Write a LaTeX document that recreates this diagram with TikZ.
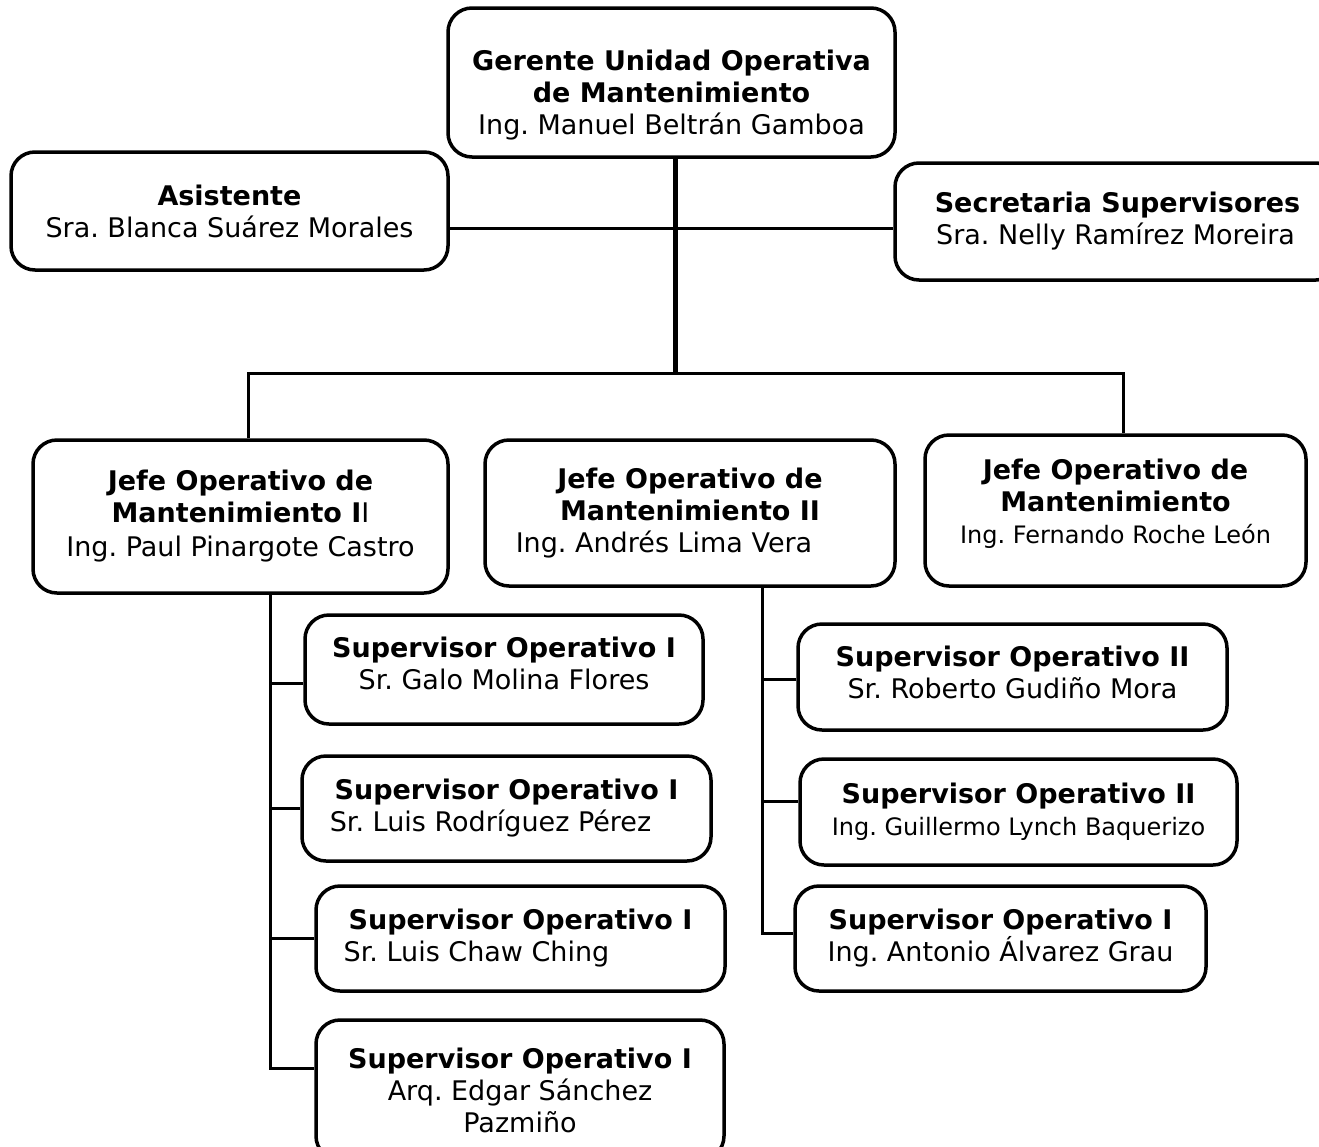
\documentclass[tikz,border=0pt]{standalone}
\usepackage{fontspec}
\setmainfont{DejaVu Sans}
\frenchspacing

\tikzset{
  puesto/.style={draw, line width=3.5pt, rounded corners=24pt, align=center,
    inner sep=0pt, font=\fontsize{27}{32}\selectfont},
  linea/.style={line width=3pt},
  tronco/.style={line width=5pt},
}
\newcommand\chico{\fontsize{24}{32}\selectfont}
\newcommand\arriba[1]{\rule{0pt}{#1}}
\newcommand\abajo[1]{\rule[-#1]{0pt}{1pt}}

\begin{document}
\begin{tikzpicture}[x=1pt,y=-1pt]
  \useasboundingbox (0,0) rectangle (1319,1146);
  \clip (0,0) rectangle (1319,1146);

  % gerencia
  \node[puesto, minimum width=447pt, minimum height=149pt] (gerente) at (671.5,82.5)
    {\arriba{45pt}\textbf{Gerente Unidad Operativa}\\\textbf{de Mantenimiento}\\Ing. Manuel Beltrán Gamboa};
  \node[puesto, minimum width=437pt, minimum height=118pt] (asist) at (229.5,211)
    {\textbf{Asistente}\\Sra. Blanca Suárez Morales};
  \node[puesto, minimum width=445pt, minimum height=117pt] (secre) at (1117.5,221.5)
    {\textbf{Secretaria Supervisores}\\Sra. Nelly Ramírez Moreira\hspace*{4pt}};

  % jefes
  \node[puesto, minimum width=415pt, minimum height=153pt] (jefeA) at (240.5,516.5)
    {\textbf{Jefe Operativo de}\\\textbf{Mantenimiento I}I\\[2pt]Ing. Paul Pinargote Castro};
  \node[puesto, minimum width=410pt, minimum height=146pt] (jefeB) at (690,513)
    {\textbf{Jefe Operativo de}\\\textbf{Mantenimiento II}\\Ing. Andrés Lima Vera\hspace*{52pt}};
  \node[puesto, minimum width=381pt, minimum height=151pt] (jefeC) at (1115.5,510.5)
    {\textbf{Jefe Operativo de}\\\textbf{Mantenimiento}\\{\chico Ing. Fernando Roche León}\abajo{18pt}};

  % supervisores I
  \node[puesto, minimum width=398pt, minimum height=109pt] (supA1) at (504,669.5)
    {\textbf{Supervisor Operativo I}\\Sr. Galo Molina Flores\abajo{13pt}};
  \node[puesto, minimum width=409pt, minimum height=105pt] (supA2) at (506.5,808.5)
    {\textbf{Supervisor Operativo I}\\Sr. Luis Rodríguez Pérez\hspace*{32pt}};
  \node[puesto, minimum width=409pt, minimum height=105pt] (supA3) at (520.5,938.5)
    {\textbf{Supervisor Operativo I}\\Sr. Luis Chaw Ching\hspace*{88pt}};
  \node[puesto, minimum width=408pt, minimum height=140pt] (supA4) at (520,1090)
    {\textbf{Supervisor Operativo I}\\Arq. Edgar Sánchez\\Pazmiño};

  % supervisores II
  \node[puesto, minimum width=429pt, minimum height=106pt] (supB1) at (1012.5,677)
    {\textbf{Supervisor Operativo II}\\Sr. Roberto Gudiño Mora\abajo{10pt}};
  \node[puesto, minimum width=437pt, minimum height=106pt] (supB2) at (1018.5,812)
    {\textbf{Supervisor Operativo II}\\{\chico Ing. Guillermo Lynch Baquerizo}};
  \node[puesto, minimum width=411pt, minimum height=105pt] (supB3) at (1000.5,938.5)
    {\textbf{Supervisor Operativo I}\\Ing. Antonio Álvarez Grau};

  % lineas de mando
  \coordinate (enlace) at (675,228);
  \coordinate (barra) at (675,373);
  \draw[tronco] (barra |- gerente.south) -- (barra);
  \draw[linea] (asist.east |- enlace) -- (secre.west |- enlace);
  \draw[linea] ([xshift=7.5pt]jefeA.north) |- (barra) -| ([xshift=7.5pt]jefeC.north);

  \path (jefeA.south) +(30,0) coordinate (ejeA);
  \draw[linea] (ejeA) |- ([yshift=22pt]supA4.west);
  \draw[linea] ([yshift=-13.5pt]supA1.west) -- ([yshift=-13.5pt]ejeA |- supA1.west);
  \draw[linea] (supA2.west) -- (ejeA |- supA2.west);
  \draw[linea] (supA3.west) -- (ejeA |- supA3.west);

  \path (jefeB.south) +(72,0) coordinate (ejeB);
  \draw[linea] (ejeB) |- ([yshift=5.5pt]supB3.west);
  \draw[linea] ([yshift=-2pt]supB1.west) -- ([yshift=-2pt]ejeB |- supB1.west);
  \draw[linea] ([yshift=11pt]supB2.west) -- ([yshift=11pt]ejeB |- supB2.west);
\end{tikzpicture}
\end{document}
